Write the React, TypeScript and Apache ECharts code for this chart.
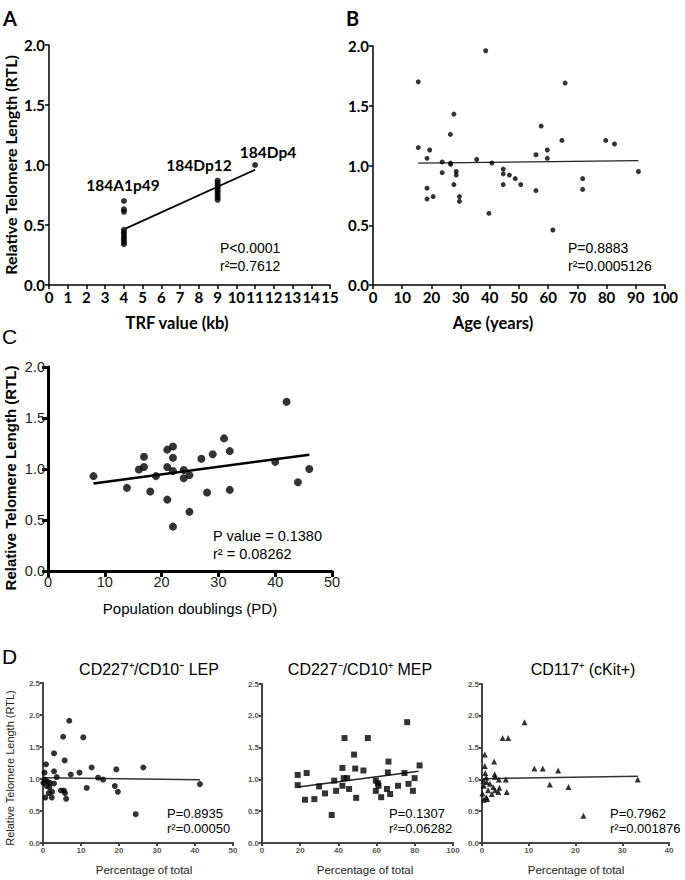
import React, { useEffect, useRef } from "react";
import * as echarts from "echarts";

// ---------- Panel A: TRF value vs RTL ----------
const trfPoints: [number, number][] = [
  [4, 0.70], [4, 0.63], [4, 0.61], [4, 0.46], [4, 0.44], [4, 0.42], [4, 0.40], [4, 0.38], [4, 0.36], [4, 0.34],
  [9, 0.87], [9, 0.85], [9, 0.83], [9, 0.81], [9, 0.79], [9, 0.77], [9, 0.75], [9, 0.73], [9, 0.71],
  [11, 1.0],
];
const trfFit: [number, number][] = [[4.08, 0.47], [11, 0.96]];
const trfLabels = ["184A1p49", "184Dp12", "184Dp4"];

// ---------- Panel B: Age vs RTL ----------
const agePoints: [number, number][] = [
  [15.5, 1.70], [15.5, 1.15], [18.5, 1.06], [18.5, 0.81], [18.5, 0.72], [19.4, 1.13], [20.6, 0.74],
  [23.7, 1.03], [23.7, 0.94], [26.5, 1.26], [26.5, 1.02], [26.6, 1.01], [27.7, 1.43], [27.7, 0.84],
  [28.5, 0.95], [28.5, 0.92], [29.6, 0.74], [29.6, 0.70], [35.5, 1.05], [38.6, 1.96], [39.7, 0.60],
  [40.7, 1.02], [44.6, 0.97], [44.6, 0.93], [44.6, 0.84], [46.7, 0.92], [48.7, 0.89], [50.6, 0.84],
  [55.8, 1.09], [55.8, 0.79], [57.6, 1.33], [59.7, 1.13], [59.7, 1.06], [61.6, 0.46], [64.7, 1.21],
  [65.8, 1.69], [71.8, 0.89], [71.8, 0.80], [79.7, 1.21], [82.7, 1.18], [90.9, 0.95],
];
const ageFit: [number, number][] = [[15.5, 1.02], [90.9, 1.04]];

// ---------- Panel C: Population doublings vs RTL ----------
const pdPoints: [number, number][] = [
  [8.0, 0.93], [13.9, 0.815], [16.0, 0.995], [16.9, 1.12], [16.9, 1.02], [18.0, 0.78], [19.0, 0.93],
  [21.0, 1.19], [21.0, 1.02], [21.0, 0.70], [22.0, 1.22], [22.0, 1.11], [22.0, 0.98], [22.0, 0.435],
  [23.9, 0.99], [23.9, 0.91], [24.9, 0.94], [24.9, 0.58], [27.0, 1.10], [28.0, 0.77], [29.0, 1.145],
  [31.0, 1.30], [32.0, 1.175], [32.0, 0.795], [40.0, 1.07], [42.0, 1.66], [44.0, 0.87], [46.0, 1.0],
];
const pdFit: [number, number][] = [[8, 0.858], [46, 1.14]];

// ---------- Panel D1: CD227+/CD10- LEP ----------
const lepPoints: [number, number][] = [
  [6.9, 1.91], [5.3, 1.66], [10.6, 1.65], [2.9, 1.40], [5.7, 1.29], [0.8, 1.23], [12.8, 1.18],
  [26.4, 1.18], [19.3, 1.15], [0.4, 1.10], [2.9, 1.12], [9.6, 1.10], [7.3, 1.07], [3.6, 1.03],
  [14.5, 1.02], [15.8, 0.99], [0.5, 0.99], [1.1, 0.96], [0.1, 0.94], [1.8, 0.94], [2.9, 0.93],
  [1.0, 0.89], [18.9, 0.89], [1.7, 0.87], [11.5, 0.86], [4.7, 0.82], [5.5, 0.82], [2.4, 0.80],
  [5.8, 0.78], [19.7, 0.80], [0.6, 0.71], [2.3, 0.71], [6.1, 0.69], [1.5, 0.78], [24.4, 0.45],
  [41.3, 0.92],
];
const lepFit: [number, number][] = [[0, 1.02], [41.3, 0.99]];

// ---------- Panel D2: CD227-/CD10+ MEP ----------
const mepPoints: [number, number][] = [
  [18.7, 1.07], [23.4, 1.10], [18.7, 0.91], [22.5, 0.68], [27.4, 0.69], [29.9, 0.89], [33.0, 0.78],
  [37.8, 0.98], [38.8, 0.82], [36.5, 0.44], [42.1, 1.18], [43.2, 1.65], [42.8, 1.02], [44.6, 1.02],
  [42.1, 0.90], [45.6, 0.85], [48.2, 1.39], [48.8, 1.17], [49.3, 0.71], [53.1, 1.14], [55.4, 1.65],
  [59.6, 0.98], [59.6, 0.82], [60.7, 0.94], [61.0, 0.90], [62.4, 0.72], [65.4, 0.85], [66.2, 1.28],
  [65.9, 1.11], [67.1, 0.77], [71.2, 0.90], [74.6, 1.10], [76.0, 1.90], [76.7, 0.93], [79.0, 0.82],
  [79.9, 1.02], [82.5, 1.22],
];
const mepFit: [number, number][] = [[19, 0.88], [82, 1.13]];

// ---------- Panel D3: CD117+ (cKit+) ----------
const kitPoints: [number, number][] = [
  [9.1, 1.90], [4.4, 1.65], [5.6, 1.65], [0.6, 1.39], [0.6, 1.21], [2.6, 1.28], [0.7, 1.10],
  [2.7, 1.08], [2.8, 1.04], [11.2, 1.17], [13.0, 1.17], [16.3, 1.14], [3.6, 1.0], [5.1, 1.0],
  [0.3, 0.98], [1.0, 0.96], [1.7, 0.93], [14.5, 0.92], [18.5, 0.88], [0.4, 0.90], [2.4, 0.88],
  [3.7, 0.87], [1.3, 0.83], [3.5, 0.80], [5.3, 0.80], [0.1, 0.78], [2.1, 0.77], [0.9, 0.72],
  [0.4, 0.68], [1.1, 0.69], [2.8, 0.83], [0.9, 1.03], [21.7, 0.43], [33.3, 1.00],
];
const kitFit: [number, number][] = [[0.3, 1.01], [33.3, 1.05]];

const CAL = "Lato, 'DejaVu Sans', sans-serif";
const ARIAL = "'Liberation Sans', Arial, sans-serif";

type AxStyle = {
  color: string; width: number; tick: number; font: string; size: number; weight: string;
  labelColor: string; margin: number;
};

const styleAB: AxStyle = { color: "#000", width: 1.5, tick: 4, font: CAL, size: 15, weight: "bold", labelColor: "#000", margin: 4 };
const styleC: AxStyle = { color: "#000", width: 3, tick: 6, font: ARIAL, size: 14.5, weight: "normal", labelColor: "#222", margin: 3 };
const styleD: AxStyle = { color: "#444", width: 2, tick: 3, font: ARIAL, size: 8, weight: "bold", labelColor: "#555", margin: 3 };

function axis(gridIndex: number, min: number, max: number, interval: number, s: AxStyle, decimals: number) {
  return {
    gridIndex, type: "value", min, max, interval,
    axisLine: { show: true, onZero: false, lineStyle: { color: s.color, width: s.width } },
    axisTick: { show: true, length: s.tick, lineStyle: { color: s.color, width: s.width } },
    axisLabel: {
      color: s.labelColor, fontFamily: s.font, fontSize: s.size, fontWeight: s.weight, margin: s.margin,
      formatter: (v: number) => v.toFixed(decimals),
    },
    splitLine: { show: false },
  };
}

function scatter(idx: number, data: [number, number][], symbol: string, size: number, color: string) {
  return {
    type: "scatter", xAxisIndex: idx, yAxisIndex: idx, data, symbol, symbolSize: size,
    itemStyle: { color }, silent: true,
  };
}

function fit(idx: number, data: [number, number][], width: number, color: string) {
  return {
    type: "line", xAxisIndex: idx, yAxisIndex: idx, data, showSymbol: false, symbol: "none",
    lineStyle: { color, width }, silent: true, z: 1,
  };
}

function txt(x: number, y: number, text: string, font: string, size: number, opts: any = {}) {
  return {
    type: "text", x, y, rotation: opts.rotation || 0,
    style: {
      text, fontFamily: font, fontSize: size, fontWeight: opts.weight || "normal",
      fill: opts.color || "#000", align: opts.align || "left", verticalAlign: "middle",
    },
  };
}

export default function App() {
  const ref = useRef<HTMLDivElement>(null);
  useEffect(() => {
    if (!ref.current) return;
    const chart = echarts.init(ref.current, undefined, { renderer: "svg" });
    const option: any = {
      animation: false,
      backgroundColor: "#fff",
      grid: [
        { left: 49, top: 45, width: 281, height: 240 },
        { left: 373, top: 46, width: 292, height: 239 },
        { left: 48, top: 367, width: 284, height: 204 },
        { left: 43, top: 683, width: 190, height: 160 },
        { left: 262, top: 684, width: 191, height: 159 },
        { left: 482, top: 684, width: 187, height: 159 },
      ],
      xAxis: [
        axis(0, 0, 15, 1, styleAB, 0),
        axis(1, 0, 100, 10, styleAB, 0),
        axis(2, 0, 50, 10, styleC, 0),
        axis(3, 0, 50, 10, styleD, 0),
        axis(4, 0, 100, 20, styleD, 0),
        axis(5, 0, 40, 10, styleD, 0),
      ],
      yAxis: [
        axis(0, 0, 2, 0.5, styleAB, 1),
        axis(1, 0, 2, 0.5, styleAB, 1),
        axis(2, 0, 2, 0.5, styleC, 1),
        axis(3, 0, 2.5, 0.5, styleD, 1),
        axis(4, 0, 2.5, 0.5, styleD, 1),
        axis(5, 0, 2.5, 0.5, styleD, 1),
      ],
      series: [
        scatter(0, trfPoints, "circle", 6, "#000"),
        fit(0, trfFit, 1.8, "#000"),
        scatter(1, agePoints, "circle", 5, "#000"),
        fit(1, ageFit, 1.2, "#222"),
        scatter(2, pdPoints, "circle", 8, "#000"),
        fit(2, pdFit, 2.5, "#000"),
        scatter(3, lepPoints, "circle", 6, "#000"),
        fit(3, lepFit, 1.5, "#333"),
        scatter(4, mepPoints, "rect", 6, "#000"),
        fit(4, mepFit, 1.5, "#222"),
        scatter(5, kitPoints, "triangle", 6, "#000"),
        fit(5, kitFit, 1.5, "#333"),
      ],
      graphic: [
        // panel letters
        txt(3, 18, "A", CAL, 20, { weight: "bold" }),
        txt(346, 18, "B", CAL, 20, { weight: "bold" }),
        txt(2, 336, "C", ARIAL, 21),
        txt(2, 656, "D", ARIAL, 21),
        // Panel A
        txt(10, 165, "Relative Telomere Length (RTL)", CAL, 16, { weight: "bold", rotation: Math.PI / 2, align: "center" }),
        txt(177, 323, "TRF value (kb)", CAL, 16.5, { weight: "bold", align: "center" }),
        txt(123, 185, trfLabels[0], CAL, 15.5, { weight: "bold", align: "center" }),
        txt(199, 165, trfLabels[1], CAL, 15.5, { weight: "bold", align: "center" }),
        txt(268, 152, trfLabels[2], CAL, 15.5, { weight: "bold", align: "center" }),
        txt(220, 248, "P<0.0001", ARIAL, 14),
        txt(220, 266, "r²=0.7612", ARIAL, 14),
        // Panel B
        txt(493, 323, "Age (years)", CAL, 16.5, { weight: "bold", align: "center" }),
        txt(568, 248, "P=0.8883", ARIAL, 14),
        txt(568, 266, "r²=0.0005126", ARIAL, 14),
        // Panel C
        txt(10, 478, "Relative Telomere Length (RTL)", ARIAL, 15, { weight: "bold", rotation: Math.PI / 2, align: "center" }),
        txt(190, 608, "Population doublings (PD)", ARIAL, 15, { align: "center" }),
        txt(213, 536, "P value = 0.1380", ARIAL, 14.5),
        txt(213, 554, "r² = 0.08262", ARIAL, 14.5),
        // Panel D
        txt(10, 768, "Relative Telomere Length (RTL)", ARIAL, 11, { rotation: Math.PI / 2, align: "center", color: "#222" }),
        txt(149, 669, "CD227⁺/CD10⁻ LEP", ARIAL, 16, { align: "center" }),
        txt(360, 669, "CD227⁻/CD10⁺ MEP", ARIAL, 16, { align: "center" }),
        txt(583, 669, "CD117⁺ (cKit+)", ARIAL, 16, { align: "center" }),
        txt(144, 870, "Percentage of total", ARIAL, 11.5, { align: "center", color: "#222" }),
        txt(365, 870, "Percentage of total", ARIAL, 11.5, { align: "center", color: "#222" }),
        txt(576, 870, "Percentage of total", ARIAL, 11.5, { align: "center", color: "#222" }),
        txt(167, 813, "P=0.8935", ARIAL, 13),
        txt(167, 828, "r²=0.00050", ARIAL, 13),
        txt(389, 813, "P=0.1307", ARIAL, 13),
        txt(389, 828, "r²=0.06282", ARIAL, 13),
        txt(610, 813, "P=0.7962", ARIAL, 13),
        txt(610, 828, "r²=0.001876", ARIAL, 13),
      ],
    };
    chart.setOption(option);
    return () => chart.dispose();
  }, []);
  return (
    <div
      ref={ref}
      style={{ position: "absolute", left: 0, top: 0, width: 685, height: 880, background: "#fff" }}
    />
  );
}
